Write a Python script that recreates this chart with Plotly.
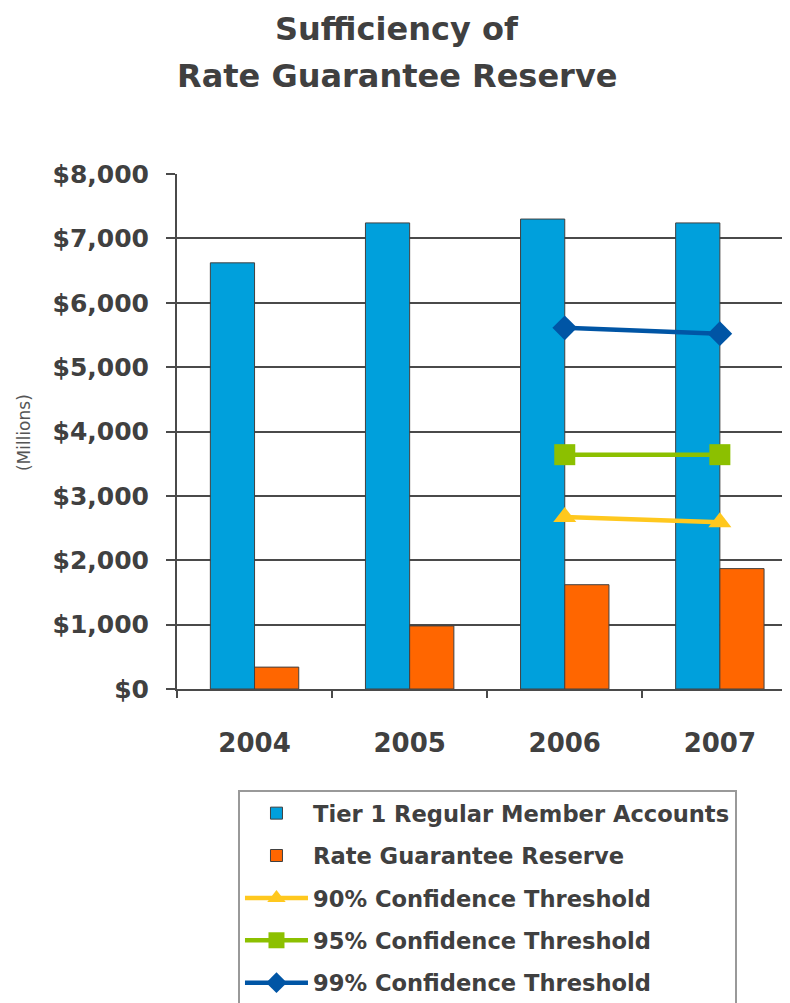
import plotly.graph_objects as go

years = ["2004", "2005", "2006", "2007"]
tier1 = [6620, 7240, 7300, 7240]
rgr = [340, 980, 1620, 1870]
thr_years = ["2006", "2007"]
thr90 = [2670, 2590]
thr95 = [3640, 3640]
thr99 = [5610, 5520]
y_ticks = [0, 1000, 2000, 3000, 4000, 5000, 6000, 7000, 8000]
y_labels = ["$0", "$1,000", "$2,000", "$3,000", "$4,000", "$5,000", "$6,000", "$7,000", "$8,000"]
title_lines = ["Sufficiency of", "Rate Guarantee Reserve"]
y_title = "(Millions)"

FONT = "DejaVu Sans, Arial, sans-serif"
TXT = "#404040"
GRID = "#4a4a4a"

fig = go.Figure()
fig.add_trace(go.Bar(x=years, y=tier1, name="Tier 1 Regular Member Accounts",
                     marker=dict(color="#00A0DC", line=dict(color="#404040", width=1)),
                     legendgroup="a"))
fig.add_trace(go.Bar(x=years, y=rgr, name="Rate Guarantee Reserve",
                     marker=dict(color="#FF6600", line=dict(color="#404040", width=1)),
                     legendgroup="b"))
fig.add_trace(go.Scatter(x=thr_years, y=thr90, name="90% Confidence Threshold", mode="lines+markers",
                         line=dict(color="#FFC81E", width=4.5),
                         marker=dict(symbol="triangle-up", size=20, color="#FFC81E"),
                         legendgroup="c"))
fig.add_trace(go.Scatter(x=thr_years, y=thr95, name="95% Confidence Threshold", mode="lines+markers",
                         line=dict(color="#8CC000", width=4.5),
                         marker=dict(symbol="square", size=21, color="#8CC000"),
                         legendgroup="d"))
fig.add_trace(go.Scatter(x=thr_years, y=thr99, name="99% Confidence Threshold", mode="lines+markers",
                         line=dict(color="#0055A5", width=4.5),
                         marker=dict(symbol="diamond", size=19, color="#0055A5"),
                         legendgroup="e"))

annotations = [
    dict(text="<b>%s</b>" % title_lines[0], xref="paper", yref="paper", x=0.362, y=1.282,
         xanchor="center", yanchor="middle", showarrow=False,
         font=dict(size=32, color=TXT, family=FONT)),
    dict(text="<b>%s</b>" % title_lines[1], xref="paper", yref="paper", x=0.362, y=1.191,
         xanchor="center", yanchor="middle", showarrow=False,
         font=dict(size=32, color=TXT, family=FONT)),
    dict(text=y_title, xref="paper", yref="paper", x=-0.2516, y=0.497,
         xanchor="center", yanchor="middle", textangle=-90, showarrow=False,
         font=dict(size=17, color="#555555", family=FONT)),
]

W, H = 782, 995  # page body has an 8px margin in the browser
fig.update_layout(
    width=W, height=H,
    margin=dict(l=169, r=5, t=166, b=314, autoexpand=False),
    paper_bgcolor="white", plot_bgcolor="white",
    font=dict(family=FONT, color=TXT),
    annotations=annotations,
    barmode="group", bargap=0.43, bargroupgap=0,
    showlegend=True,
    legend=dict(x=0.1003, xanchor="left", y=-0.196, yanchor="top",
                bordercolor="#999999", borderwidth=2,
                font=dict(size=22.6, color=TXT, family=FONT, weight="bold"),
                traceorder="grouped", tracegroupgap=10, itemwidth=63),
)
fig.update_xaxes(type="category", range=[-0.5, 3.42], showgrid=False, automargin=False,
                 showline=True, linecolor=GRID, linewidth=2,
                 ticks="outside", tickson="boundaries", ticklen=7, tickcolor=GRID, tickwidth=2,
                 ticklabelstandoff=30, tickangle=0,
                 tickfont=dict(size=26, color=TXT, family=FONT, weight="bold"))
fig.update_yaxes(range=[0, 8000], tickvals=y_ticks, ticktext=y_labels, automargin=False,
                 showgrid=True, gridcolor=GRID, gridwidth=2,
                 showline=True, linecolor=GRID, linewidth=2,
                 ticks="outside", ticklen=9, tickcolor=GRID, tickwidth=2,
                 ticklabelstandoff=12,
                 tickfont=dict(size=25, color=TXT, family=FONT, weight="bold"),
                 zeroline=False)

fig.write_html("out.html")
